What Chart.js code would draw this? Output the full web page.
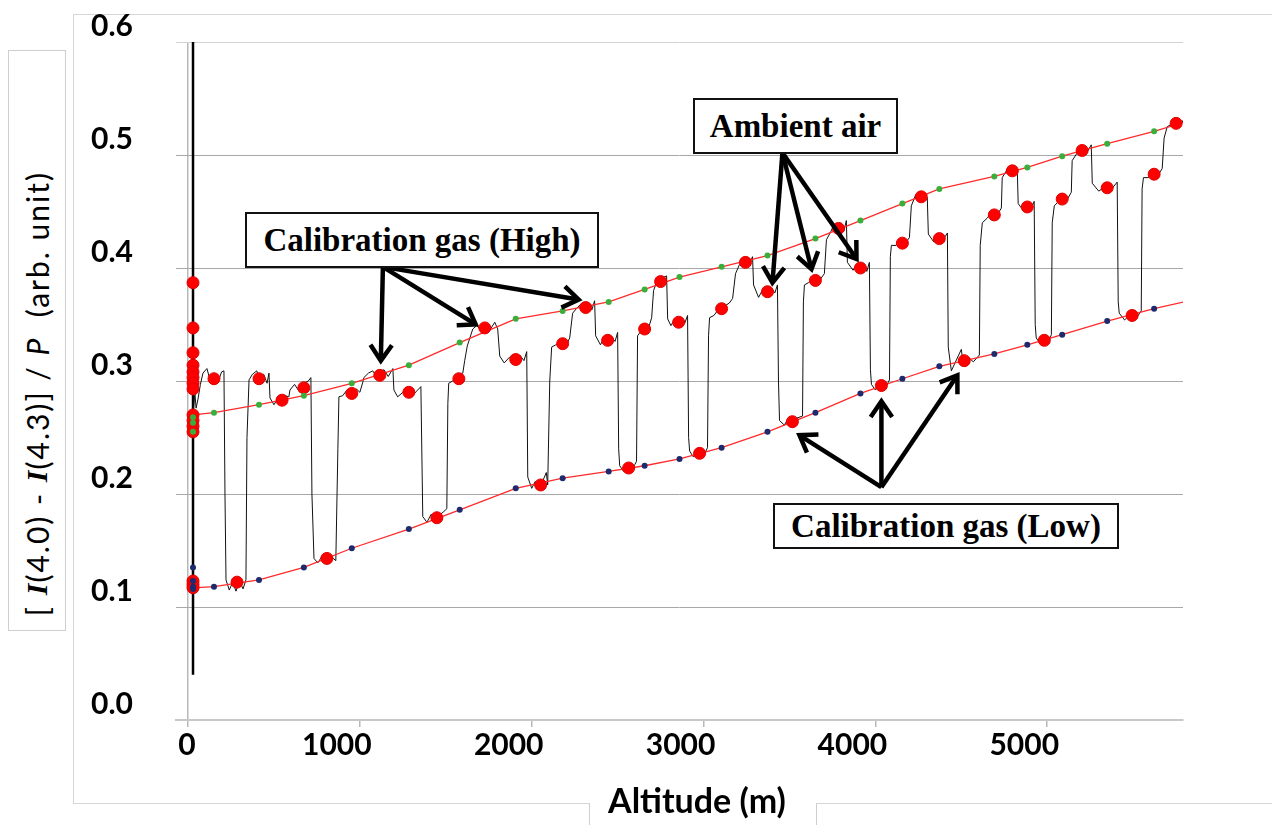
<!DOCTYPE html>
<html>
<head>
<meta charset="utf-8">
<script src="https://cdn.jsdelivr.net/npm/chart.js@4.4.1/dist/chart.umd.min.js"></script>
<style>
  html, body { margin: 0; padding: 0; background: #fff; }
  #wrap { position: relative; width: 1272px; height: 825px; overflow: hidden; }
  #frame { position: absolute; left: 73px; top: 14px; width: 1300px; height: 788px; border: 1px solid #d6d6d6; }
  #chartBox { position: absolute; left: 0; top: 0; width: 1272px; height: 825px; }
  #ytitle { position: absolute; left: 8px; top: 50px; width: 58px; height: 581px; border: 1px solid #cfcfcf;
            background: #fff; display: flex; align-items: flex-end; justify-content: center;
            box-sizing: border-box; padding-bottom: 14px; }
  #ytitle > span { writing-mode: vertical-rl; transform: rotate(180deg); font-family: Lato, sans-serif;
                   font-size: 30px; letter-spacing: 2px; white-space: nowrap; color: #000; }
  #ytitle .ser { font-family: "Liberation Serif", serif; font-style: italic; font-weight: bold; letter-spacing: 1px; }
  #xcover { position: absolute; left: 589px; top: 803px; width: 226px; height: 30px; background: #fff;
            border-left: 1px solid #cfcfcf; border-right: 1px solid #cfcfcf; }
  #xtitle { position: absolute; left: 589px; top: 782px; width: 216px; text-align: center;
            font-family: Lato, sans-serif; font-weight: bold; font-size: 34px; line-height: 36px; color: #000; }
  .note { position: absolute; background: #fff; border: 2px solid #111; box-sizing: border-box;
          display: flex; align-items: center; justify-content: center;
          font-family: "Liberation Serif", serif; font-weight: bold; font-size: 33px; white-space: nowrap; color: #000; }
</style>
</head>
<body>
<div id="wrap">
  <div id="frame"></div>
  <div id="chartBox"><canvas id="chart"></canvas></div>
  <div id="ytitle"><span>[ <span class="ser">I</span>(4.0) - <span class="ser">I</span>(4.3)] / <i>P</i>&nbsp;&nbsp;(arb. unit)</span></div>
  <div id="xcover"></div>
  <div id="xtitle">Altitude (m)</div>
  <div class="note" style="left:245px; top:212px; width:354px; height:56px;">Calibration gas (High)</div>
  <div class="note" style="left:693px; top:98px; width:205px; height:56px;">Ambient air</div>
  <div class="note" style="left:773px; top:503px; width:346px; height:46px;">Calibration gas (Low)</div>
</div>
<script>
// raw signal along the flight: [altitude m, value]
const trace = [
  [29, 0.270], [40, 0.289], [47, 0.276], [58, 0.284], [72, 0.297], [87, 0.307],
  [110, 0.311], [128, 0.301], [150, 0.306], [175, 0.299], [195, 0.308], [209, 0.309],
  [215, 0.200], [221, 0.124],
  [240, 0.115], [260, 0.122], [279, 0.114], [300, 0.123], [320, 0.116], [337, 0.124],
  [343, 0.250], [355, 0.301],
  [375, 0.306], [400, 0.309], [413, 0.302], [440, 0.306], [460, 0.298], [471, 0.307],
  [477, 0.285],
  [500, 0.279], [520, 0.284], [547, 0.280], [565, 0.287], [587, 0.286],
  [593, 0.292],
  [620, 0.297], [650, 0.290], [674, 0.298], [700, 0.300], [715, 0.303],
  [721, 0.200], [733, 0.143],
  [755, 0.139], [780, 0.145], [808, 0.138], [830, 0.145], [860, 0.141],
  [872, 0.240], [878, 0.286],
  [900, 0.287], [925, 0.292], [953, 0.286], [980, 0.293], [1000, 0.290], [1017, 0.299],
  [1023, 0.303],
  [1050, 0.307], [1075, 0.309], [1100, 0.303], [1116, 0.307], [1140, 0.310], [1165, 0.304], [1192, 0.311],
  [1198, 0.292],
  [1220, 0.286], [1250, 0.290], [1279, 0.292], [1305, 0.287], [1330, 0.291], [1355, 0.295],
  [1366, 0.180],
  [1390, 0.175], [1415, 0.182], [1436, 0.177], [1460, 0.181], [1485, 0.184], [1506, 0.187],
  [1512, 0.280], [1517, 0.298],
  [1540, 0.300], [1570, 0.304], [1599, 0.307],
  [1610, 0.318], [1625, 0.331], [1640, 0.338], [1657, 0.346],
  [1680, 0.349], [1710, 0.344], [1733, 0.351], [1760, 0.346], [1785, 0.352], [1802, 0.346],
  [1814, 0.322],
  [1840, 0.316], [1870, 0.321], [1901, 0.317], [1930, 0.323], [1955, 0.318], [1971, 0.326],
  [1977, 0.215],
  [2000, 0.205], [2020, 0.211], [2040, 0.204], [2060, 0.210], [2085, 0.219], [2093, 0.208],
  [2105, 0.300], [2116, 0.330],
  [2140, 0.332], [2169, 0.335], [2195, 0.330], [2221, 0.338],
  [2238, 0.360],
  [2260, 0.364], [2285, 0.368], [2308, 0.363], [2330, 0.369], [2350, 0.363], [2366, 0.371],
  [2372, 0.340],
  [2400, 0.332], [2420, 0.338], [2442, 0.333], [2465, 0.339], [2485, 0.335], [2500, 0.343],
  [2506, 0.240], [2512, 0.225],
  [2535, 0.220], [2558, 0.224], [2580, 0.221], [2600, 0.226], [2610, 0.229],
  [2616, 0.340],
  [2635, 0.344], [2657, 0.348], [2680, 0.347], [2698, 0.356],
  [2709, 0.380],
  [2735, 0.391], [2756, 0.385], [2770, 0.392], [2785, 0.393],
  [2791, 0.355],
  [2810, 0.349], [2830, 0.354], [2849, 0.350], [2870, 0.355], [2890, 0.351], [2907, 0.358],
  [2913, 0.250], [2919, 0.238],
  [2940, 0.233], [2971, 0.238], [2995, 0.232], [3023, 0.241],
  [3029, 0.340], [3035, 0.356],
  [3060, 0.358], [3085, 0.363], [3105, 0.363], [3130, 0.367], [3150, 0.369], [3169, 0.373],
  [3186, 0.395], [3209, 0.403],
  [3230, 0.406], [3244, 0.405], [3265, 0.403], [3285, 0.410],
  [3291, 0.385],
  [3320, 0.374], [3345, 0.381], [3372, 0.377], [3395, 0.382], [3415, 0.378], [3430, 0.385],
  [3436, 0.300], [3442, 0.265],
  [3470, 0.261], [3490, 0.266], [3512, 0.262], [3540, 0.267], [3576, 0.269],
  [3581, 0.370], [3587, 0.385],
  [3610, 0.387], [3645, 0.391], [3670, 0.388], [3703, 0.395],
  [3715, 0.425],
  [3740, 0.432], [3760, 0.439], [3779, 0.433], [3800, 0.440], [3815, 0.432], [3831, 0.442],
  [3837, 0.405],
  [3870, 0.398], [3890, 0.403], [3907, 0.399], [3930, 0.404], [3950, 0.397], [3965, 0.405],
  [3971, 0.310], [3977, 0.297],
  [4000, 0.292], [4029, 0.298], [4055, 0.293], [4082, 0.301],
  [4087, 0.410], [4093, 0.420],
  [4120, 0.420], [4145, 0.424], [4170, 0.421], [4198, 0.427],
  [4209, 0.455],
  [4235, 0.465], [4256, 0.461], [4280, 0.467], [4302, 0.462],
  [4308, 0.430],
  [4340, 0.423], [4366, 0.428], [4390, 0.424], [4419, 0.431],
  [4424, 0.330], [4442, 0.309],
  [4500, 0.328], [4510, 0.316], [4540, 0.321], [4570, 0.317], [4605, 0.323],
  [4610, 0.420], [4622, 0.440],
  [4650, 0.444], [4674, 0.449], [4700, 0.445], [4733, 0.453],
  [4738, 0.480],
  [4770, 0.488], [4791, 0.483], [4810, 0.490], [4826, 0.485],
  [4831, 0.457],
  [4860, 0.451], [4884, 0.456], [4905, 0.452], [4924, 0.459],
  [4930, 0.350], [4936, 0.338],
  [4960, 0.333], [4983, 0.338], [5005, 0.334], [5024, 0.341],
  [5029, 0.440], [5041, 0.455],
  [5060, 0.458], [5087, 0.463], [5110, 0.459], [5140, 0.467],
  [5145, 0.495],
  [5175, 0.502], [5203, 0.507], [5230, 0.502], [5256, 0.509],
  [5262, 0.475],
  [5300, 0.468], [5343, 0.473], [5370, 0.469], [5407, 0.476],
  [5413, 0.370], [5419, 0.360],
  [5450, 0.354], [5483, 0.359], [5515, 0.355], [5547, 0.362],
  [5552, 0.470], [5560, 0.480],
  [5590, 0.480], [5611, 0.485], [5640, 0.481], [5669, 0.488],
  [5680, 0.515], [5698, 0.525],
  [5720, 0.527], [5750, 0.531], [5775, 0.527], [5797, 0.532]
];

// ground-level spread of readings before take-off
const groundAlt = 29;
const groundSpan = [0.04, 0.60];
const groundMeans = [0.387, 0.347, 0.325, 0.314, 0.308, 0.303, 0.298, 0.293, 0.270, 0.265, 0.260, 0.255, 0.123, 0.120, 0.117];
const groundHigh = [0.268, 0.263, 0.255];
const groundLow = [0.135, 0.123, 0.118, 0.116];

// plateau means (red dots)
const meanAlt = [151, 285, 413, 547, 674, 808, 953, 1116, 1285, 1448, 1576, 1727, 1907, 2052, 2180, 2314, 2442, 2564, 2657, 2750, 2855, 2977,
  3105, 3244, 3372, 3517, 3651, 3785, 3913, 4035, 4157, 4267, 4372, 4517, 4692, 4797, 4884, 4983, 5087, 5203, 5349, 5494, 5622, 5750];
const meanVal = [0.302, 0.122, 0.302, 0.283, 0.294, 0.143, 0.289, 0.305, 0.290, 0.179, 0.302, 0.347, 0.319, 0.208, 0.333, 0.365, 0.336, 0.223, 0.346, 0.388, 0.352, 0.236,
  0.364, 0.405, 0.379, 0.264, 0.389, 0.435, 0.400, 0.296, 0.422, 0.463, 0.426, 0.318, 0.447, 0.486, 0.454, 0.336, 0.461, 0.504, 0.471, 0.358, 0.483, 0.528];

// calibration fits (red curves), dots at inner samples
const fitAlt = [29, 151, 413, 674, 953, 1285, 1581, 1907, 2180, 2448, 2657, 2860, 3105, 3372, 3651, 3913, 4157, 4372, 4692, 4884, 5087, 5349, 5622, 5797];
const highFit = [0.270, 0.272, 0.279, 0.287, 0.298, 0.314, 0.334, 0.355, 0.362, 0.370, 0.381, 0.392, 0.401, 0.411, 0.426, 0.442, 0.457, 0.470, 0.481, 0.489, 0.499, 0.510, 0.521, 0.529];
const lowFit = [0.117, 0.118, 0.124, 0.135, 0.152, 0.169, 0.186, 0.205, 0.214, 0.220, 0.225, 0.231, 0.241, 0.255, 0.272, 0.289, 0.302, 0.313, 0.324, 0.332, 0.341, 0.353, 0.364, 0.370];

const xTicks = [0, 1000, 2000, 3000, 4000, 5000];

// annotation arrows, [altitude, value] from -> to
const arrows = [
  { from: [1134, 0.401], to: [1122, 0.318] },
  { from: [1134, 0.401], to: [1674, 0.350] },
  { from: [1134, 0.401], to: [2273, 0.372] },
  { from: [3459, 0.502], to: [3401, 0.387] },
  { from: [3459, 0.502], to: [3628, 0.399] },
  { from: [3459, 0.502], to: [3890, 0.408] },
  { from: [4035, 0.206], to: [3558, 0.252] },
  { from: [4035, 0.206], to: [4035, 0.282] },
  { from: [4035, 0.206], to: [4477, 0.305] }
];

const pts = (xs, ys) => ys.map((v, i) => ({ x: Array.isArray(xs) ? xs[i] : xs, y: v }));

const arrowPlugin = {
  id: 'arrows',
  afterDraw(chart) {
    const { ctx, scales: { x, y } } = chart;
    ctx.save();
    ctx.strokeStyle = '#000';
    ctx.lineWidth = 4.5;
    ctx.lineJoin = 'miter';
    arrows.forEach(a => {
      const x0 = x.getPixelForValue(a.from[0]), y0 = y.getPixelForValue(a.from[1]);
      const x1 = x.getPixelForValue(a.to[0]), y1 = y.getPixelForValue(a.to[1]);
      const ang = Math.atan2(y1 - y0, x1 - x0);
      ctx.beginPath();
      ctx.moveTo(x0, y0);
      ctx.lineTo(x1 - 2 * Math.cos(ang), y1 - 2 * Math.sin(ang));
      ctx.stroke();
      const h = 19, spread = 0.6;
      ctx.beginPath();
      ctx.moveTo(x1 - h * Math.cos(ang - spread), y1 - h * Math.sin(ang - spread));
      ctx.lineTo(x1, y1);
      ctx.lineTo(x1 - h * Math.cos(ang + spread), y1 - h * Math.sin(ang + spread));
      ctx.stroke();
    });
    ctx.restore();
  }
};

const datasets = [
  { label: 'ground', data: pts(groundAlt, groundSpan), showLine: true, borderColor: '#000', borderWidth: 2.5, pointRadius: 0, order: 5 },
  { label: 'signal', data: trace.map(p => ({ x: p[0], y: p[1] })), showLine: true, borderColor: '#111', borderWidth: 1, pointRadius: 0, order: 4 },
  { label: 'high fit', data: pts(fitAlt, highFit), showLine: true, borderColor: '#ff2a2a', borderWidth: 1.3, pointRadius: 0, order: 3 },
  { label: 'low fit', data: pts(fitAlt, lowFit), showLine: true, borderColor: '#ff2a2a', borderWidth: 1.3, pointRadius: 0, order: 3 },
  { label: 'means', data: pts(meanAlt, meanVal).concat(pts(groundAlt, groundMeans)), showLine: false,
    pointRadius: 6, backgroundColor: '#ff0000', borderColor: '#e00000', borderWidth: 1, order: 2 },
  { label: 'high cal', data: pts(fitAlt.slice(1, -1), highFit.slice(1, -1)).concat(pts(groundAlt, groundHigh)), showLine: false,
    pointRadius: 3, backgroundColor: '#3aae3a', borderColor: '#3aae3a', borderWidth: 0, order: 1 },
  { label: 'low cal', data: pts(fitAlt.slice(1, -1), lowFit.slice(1, -1)).concat(pts(groundAlt, groundLow)), showLine: false,
    pointRadius: 3, backgroundColor: '#1d2a6e', borderColor: '#1d2a6e', borderWidth: 0, order: 1 }
];

const tickFont = { family: 'Lato', weight: 'bold', size: 30 };

new Chart(document.getElementById('chart'), {
  type: 'scatter',
  data: { datasets },
  options: {
    responsive: true,
    maintainAspectRatio: false,
    animation: false,
    layout: { padding: { left: 91, top: 42, right: 89, bottom: 45 } },
    plugins: { legend: { display: false }, tooltip: { enabled: false } },
    scales: {
      x: {
        type: 'linear', min: -70, max: 5790,
        border: { display: true, color: '#c8c8c8', width: 2 },
        grid: {
          color: c => (c.tick && c.tick.value === 0) ? '#b8b8b8' : 'rgba(0,0,0,0)',
          lineWidth: 1.5, drawTicks: true, tickLength: 7, tickColor: '#b8b8b8'
        },
        afterBuildTicks: s => { s.ticks = xTicks.map(v => ({ value: v })); },
        ticks: {
          autoSkip: false, maxRotation: 0, padding: 0, labelOffset: -23, color: '#000', font: tickFont,
          callback: v => v === 0 ? '      0' : String(v)
        },
        afterFit: s => { s.height = 60; }
      },
      y: {
        min: 0, max: 0.6,
        border: { display: false },
        grid: { color: c => (c.tick && c.tick.value > 0.55) ? '#d2d2d2' : '#a8a8a8', drawTicks: false, lineWidth: 1 },
        ticks: { stepSize: 0.1, padding: 0, crossAlign: 'far', labelOffset: -16, color: '#000', font: tickFont, callback: v => v.toFixed(1) },
        afterFit: s => { s.width = 85; }
      }
    }
  },
  plugins: [arrowPlugin]
});
</script>
</body>
</html>
